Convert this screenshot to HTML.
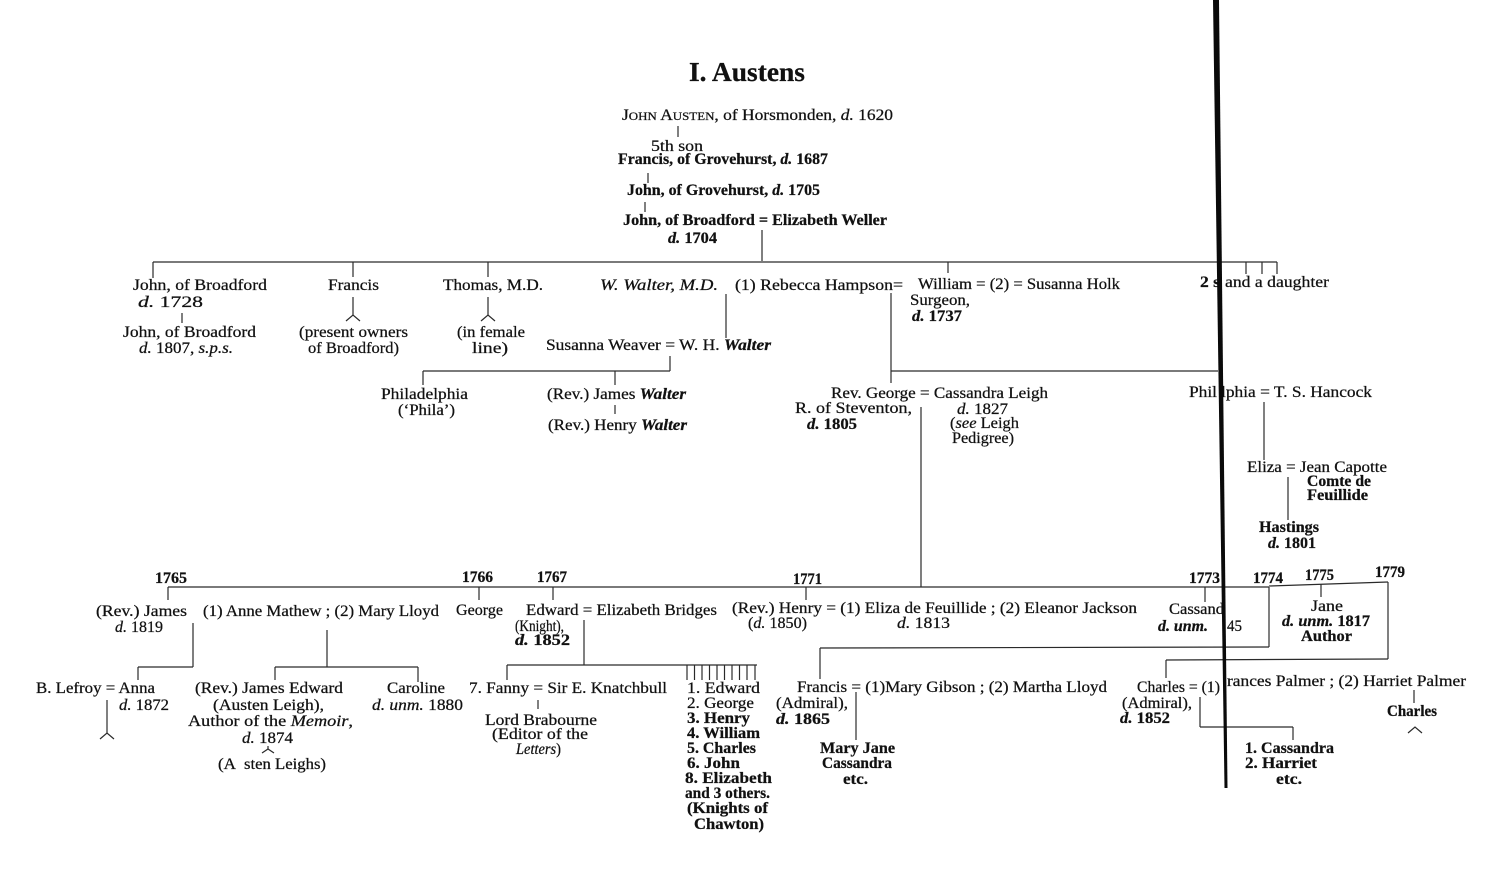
<!DOCTYPE html>
<html><head><meta charset="utf-8"><style>
html,body{margin:0;padding:0;background:#fff;}
svg{display:block;}
text{font-family:"Liberation Serif","DejaVu Serif",serif;font-size:15.5px;fill:#111;stroke:#111;stroke-width:0.25;}
.b{font-weight:bold;}
.i{font-style:italic;}
.t{font-size:27px;font-weight:bold;}
line,polyline{stroke:#2a2a2a;stroke-width:1.2;fill:none;}
</style></head><body>
<svg width="1500" height="896" viewBox="0 0 1500 896" xmlns="http://www.w3.org/2000/svg">
<rect width="1500" height="896" fill="#fff"/>
<g>
<text class="t" x="689" y="81" textLength="116" lengthAdjust="spacingAndGlyphs">I. Austens</text>

<text x="622" y="120" textLength="271" lengthAdjust="spacingAndGlyphs">J<tspan font-size="11.5">OHN</tspan> A<tspan font-size="11.5">USTEN</tspan>, of Horsmonden, <tspan class="i">d.</tspan> 1620</text>
<text x="651" y="151" textLength="52" lengthAdjust="spacingAndGlyphs">5th  son</text>
<text class="b" x="618" y="164" textLength="210" lengthAdjust="spacingAndGlyphs">Francis, of Grovehurst, <tspan class="i">d.</tspan> 1687</text>
<text class="b" x="627" y="195" textLength="193" lengthAdjust="spacingAndGlyphs">John, of Grovehurst, <tspan class="i">d.</tspan> 1705</text>
<text class="b" x="623" y="225" textLength="264" lengthAdjust="spacingAndGlyphs">John, of Broadford = Elizabeth  Weller</text>
<text class="b" x="668" y="243" textLength="49" lengthAdjust="spacingAndGlyphs"><tspan class="i">d.</tspan> 1704</text>

<text x="133" y="290" textLength="134" lengthAdjust="spacingAndGlyphs">John, of Broadford</text>
<text x="138" y="307" textLength="65" lengthAdjust="spacingAndGlyphs"><tspan class="i">d.</tspan> 1728</text>
<text x="123" y="337" textLength="133" lengthAdjust="spacingAndGlyphs">John, of Broadford</text>
<text x="139" y="353" textLength="94" lengthAdjust="spacingAndGlyphs"><tspan class="i">d.</tspan> 1807, <tspan class="i">s.p.s.</tspan></text>
<text x="328" y="290" textLength="51" lengthAdjust="spacingAndGlyphs">Francis</text>
<text x="299" y="337" textLength="109" lengthAdjust="spacingAndGlyphs">(present owners</text>
<text x="308" y="353" textLength="91" lengthAdjust="spacingAndGlyphs">of Broadford)</text>
<text x="443" y="290" textLength="100" lengthAdjust="spacingAndGlyphs">Thomas, M.D.</text>
<text x="457" y="337" textLength="68" lengthAdjust="spacingAndGlyphs">(in female</text>
<text x="472" y="353" textLength="36" lengthAdjust="spacingAndGlyphs">line)</text>
<text class="i" x="600" y="290" textLength="118" lengthAdjust="spacingAndGlyphs">W. Walter, M.D.</text>
<text x="735" y="290" textLength="168" lengthAdjust="spacingAndGlyphs">(1) Rebecca Hampson=</text>
<text x="918" y="289" textLength="202" lengthAdjust="spacingAndGlyphs">William = (2) = Susanna Holk</text>
<text x="910" y="305" textLength="60" lengthAdjust="spacingAndGlyphs">Surgeon,</text>
<text class="b" x="912" y="321" textLength="50" lengthAdjust="spacingAndGlyphs"><tspan class="i">d.</tspan> 1737</text>
<text x="546" y="350" textLength="225" lengthAdjust="spacingAndGlyphs">Susanna Weaver = W. H. <tspan class="i b">Walter</tspan></text>
<text x="381" y="399" textLength="87" lengthAdjust="spacingAndGlyphs">Philadelphia</text>
<text x="398" y="415" textLength="57" lengthAdjust="spacingAndGlyphs">(‘Phila’)</text>
<text x="547" y="399" textLength="139" lengthAdjust="spacingAndGlyphs">(Rev.) James <tspan class="i b">Walter</tspan></text>
<text x="548" y="430" textLength="139" lengthAdjust="spacingAndGlyphs">(Rev.) Henry <tspan class="i b">Walter</tspan></text>
<text x="831" y="398" textLength="217" lengthAdjust="spacingAndGlyphs">Rev. George = Cassandra  Leigh</text>
<text x="795" y="413" textLength="117" lengthAdjust="spacingAndGlyphs">R. of Steventon,</text>
<text class="b" x="807" y="429" textLength="50" lengthAdjust="spacingAndGlyphs"><tspan class="i">d.</tspan> 1805</text>
<text x="957" y="414" textLength="51" lengthAdjust="spacingAndGlyphs"><tspan class="i">d.</tspan> 1827</text>
<text x="950" y="428" textLength="69" lengthAdjust="spacingAndGlyphs">(<tspan class="i">see</tspan> Leigh</text>
<text x="952" y="443" textLength="62" lengthAdjust="spacingAndGlyphs">Pedigree)</text>
<text class="b" x="1200" y="287" textLength="20" lengthAdjust="spacingAndGlyphs">2 s</text>
<text x="1225" y="287" textLength="104" lengthAdjust="spacingAndGlyphs">and a daughter</text>
<text x="1189" y="397" textLength="28" lengthAdjust="spacingAndGlyphs">Phil</text>
<text x="1221" y="397" textLength="151" lengthAdjust="spacingAndGlyphs">lphia = T. S. Hancock</text>
<text x="1247" y="472" textLength="140" lengthAdjust="spacingAndGlyphs">Eliza = Jean Capotte</text>
<text class="b" x="1307" y="486" textLength="64" lengthAdjust="spacingAndGlyphs">Comte de</text>
<text class="b" x="1307" y="500" textLength="61" lengthAdjust="spacingAndGlyphs">Feuillide</text>
<text class="b" x="1259" y="532" textLength="60" lengthAdjust="spacingAndGlyphs">Hastings</text>
<text class="b" x="1268" y="548" textLength="48" lengthAdjust="spacingAndGlyphs"><tspan class="i">d.</tspan> 1801</text>

<text class="b" x="155" y="583" textLength="32" lengthAdjust="spacingAndGlyphs">1765</text>
<text class="b" x="462" y="582" textLength="31" lengthAdjust="spacingAndGlyphs">1766</text>
<text class="b" x="537" y="582" textLength="30" lengthAdjust="spacingAndGlyphs">1767</text>
<text class="b" x="793" y="584" textLength="29" lengthAdjust="spacingAndGlyphs">1771</text>
<text class="b" x="1189" y="583" textLength="31" lengthAdjust="spacingAndGlyphs">1773</text>
<text class="b" x="1253" y="583" textLength="30" lengthAdjust="spacingAndGlyphs">1774</text>
<text class="b" x="1305" y="580" textLength="29" lengthAdjust="spacingAndGlyphs">1775</text>
<text class="b" x="1375" y="577" textLength="30" lengthAdjust="spacingAndGlyphs">1779</text>

<text x="96" y="616" textLength="91" lengthAdjust="spacingAndGlyphs">(Rev.) James</text>
<text x="115" y="632" textLength="48" lengthAdjust="spacingAndGlyphs"><tspan class="i">d.</tspan> 1819</text>
<text x="203" y="616" textLength="236" lengthAdjust="spacingAndGlyphs">(1) Anne Mathew ;  (2) Mary Lloyd</text>
<text x="456" y="615" textLength="47" lengthAdjust="spacingAndGlyphs">George</text>
<text x="526" y="615" textLength="191" lengthAdjust="spacingAndGlyphs">Edward = Elizabeth Bridges</text>
<text x="515" y="631" textLength="49" lengthAdjust="spacingAndGlyphs">(Knight),</text>
<text class="b" x="515" y="645" textLength="55" lengthAdjust="spacingAndGlyphs"><tspan class="i">d.</tspan>  1852</text>
<text x="732" y="613" textLength="405" lengthAdjust="spacingAndGlyphs">(Rev.) Henry = (1) Eliza de Feuillide ;  (2) Eleanor Jackson</text>
<text x="748" y="628" textLength="59" lengthAdjust="spacingAndGlyphs">(<tspan class="i">d.</tspan> 1850)</text>
<text x="897" y="628" textLength="53" lengthAdjust="spacingAndGlyphs"><tspan class="i">d.</tspan>  1813</text>
<text x="1169" y="614" textLength="55" lengthAdjust="spacingAndGlyphs">Cassand</text>
<text class="b i" x="1158" y="631" textLength="50" lengthAdjust="spacingAndGlyphs">d. unm.</text>
<text x="1227" y="631" textLength="15" lengthAdjust="spacingAndGlyphs">45</text>
<text x="1311" y="611" textLength="32" lengthAdjust="spacingAndGlyphs">Jane</text>
<text class="b" x="1282" y="626" textLength="88" lengthAdjust="spacingAndGlyphs"><tspan class="i">d. unm.</tspan> 1817</text>
<text class="b" x="1301" y="641" textLength="51" lengthAdjust="spacingAndGlyphs">Author</text>

<text x="36" y="693" textLength="119" lengthAdjust="spacingAndGlyphs">B. Lefroy = Anna</text>
<text x="119" y="710" textLength="50" lengthAdjust="spacingAndGlyphs"><tspan class="i">d.</tspan> 1872</text>
<text x="195" y="693" textLength="148" lengthAdjust="spacingAndGlyphs">(Rev.) James Edward</text>
<text x="213" y="710" textLength="111" lengthAdjust="spacingAndGlyphs">(Austen Leigh),</text>
<text x="188" y="726" textLength="165" lengthAdjust="spacingAndGlyphs">Author of the <tspan class="i">Memoir</tspan>,</text>
<text x="242" y="743" textLength="51" lengthAdjust="spacingAndGlyphs"><tspan class="i">d.</tspan> 1874</text>
<text x="218" y="769" textLength="18" lengthAdjust="spacingAndGlyphs">(A</text>
<text x="244" y="769" textLength="82" lengthAdjust="spacingAndGlyphs">sten Leighs)</text>
<text x="387" y="693" textLength="58" lengthAdjust="spacingAndGlyphs">Caroline</text>
<text x="372" y="710" textLength="91" lengthAdjust="spacingAndGlyphs"><tspan class="i">d. unm.</tspan> 1880</text>
<text x="469" y="693" textLength="198" lengthAdjust="spacingAndGlyphs">7. Fanny = Sir E. Knatchbull</text>
<text x="485" y="725" textLength="112" lengthAdjust="spacingAndGlyphs">Lord  Brabourne</text>
<text x="492" y="739" textLength="96" lengthAdjust="spacingAndGlyphs">(Editor of the</text>
<text x="516" y="754" textLength="45" lengthAdjust="spacingAndGlyphs"><tspan class="i">Letters</tspan>)</text>

<text x="687" y="693" textLength="73" lengthAdjust="spacingAndGlyphs">1.  Edward</text>
<text x="687" y="708" textLength="67" lengthAdjust="spacingAndGlyphs">2.  George</text>
<text class="b" x="687" y="723" textLength="63" lengthAdjust="spacingAndGlyphs">3.  Henry</text>
<text class="b" x="687" y="738" textLength="73" lengthAdjust="spacingAndGlyphs">4.  William</text>
<text class="b" x="687" y="753" textLength="69" lengthAdjust="spacingAndGlyphs">5.  Charles</text>
<text class="b" x="687" y="768" textLength="53" lengthAdjust="spacingAndGlyphs">6.  John</text>
<text class="b" x="685" y="783" textLength="87" lengthAdjust="spacingAndGlyphs">8.  Elizabeth</text>
<text class="b" x="685" y="798" textLength="85" lengthAdjust="spacingAndGlyphs">and 3 others.</text>
<text class="b" x="687" y="813" textLength="81" lengthAdjust="spacingAndGlyphs">(Knights of</text>
<text class="b" x="694" y="829" textLength="70" lengthAdjust="spacingAndGlyphs">Chawton)</text>

<text x="797" y="692" textLength="310" lengthAdjust="spacingAndGlyphs">Francis = (1)Mary Gibson ;  (2) Martha Lloyd</text>
<text x="776" y="708" textLength="72" lengthAdjust="spacingAndGlyphs">(Admiral),</text>
<text class="b" x="776" y="724" textLength="54" lengthAdjust="spacingAndGlyphs"><tspan class="i">d.</tspan> 1865</text>
<text class="b" x="820" y="753" textLength="75" lengthAdjust="spacingAndGlyphs">Mary  Jane</text>
<text class="b" x="822" y="768" textLength="70" lengthAdjust="spacingAndGlyphs">Cassandra</text>
<text class="b" x="843" y="784" textLength="25" lengthAdjust="spacingAndGlyphs">etc.</text>

<text x="1137" y="692" textLength="83" lengthAdjust="spacingAndGlyphs">Charles = (1)</text>
<text x="1227" y="686" textLength="239" lengthAdjust="spacingAndGlyphs">rances Palmer ;  (2) Harriet Palmer</text>
<text x="1122" y="708" textLength="70" lengthAdjust="spacingAndGlyphs">(Admiral),</text>
<text class="b" x="1120" y="723" textLength="50" lengthAdjust="spacingAndGlyphs"><tspan class="i">d.</tspan> 1852</text>
<text class="b" x="1245" y="753" textLength="89" lengthAdjust="spacingAndGlyphs">1.  Cassandra</text>
<text class="b" x="1245" y="768" textLength="72" lengthAdjust="spacingAndGlyphs">2.  Harriet</text>
<text class="b" x="1276" y="784" textLength="26" lengthAdjust="spacingAndGlyphs">etc.</text>
<text class="b" x="1387" y="716" textLength="50" lengthAdjust="spacingAndGlyphs">Charles</text>
</g>

<g>
<line x1="678" y1="126" x2="678" y2="137"/>
<line x1="648" y1="173" x2="648" y2="183"/>
<line x1="645" y1="202" x2="645" y2="212"/>
<line x1="762" y1="230" x2="762" y2="261"/>
<line x1="153" y1="262" x2="1277" y2="262"/>
<line x1="153" y1="262" x2="153" y2="278"/>
<line x1="353" y1="262" x2="353" y2="277"/>
<line x1="488" y1="262" x2="488" y2="277"/>
<line x1="948" y1="262" x2="948" y2="273"/>
<line x1="1246" y1="262" x2="1246" y2="274"/>
<line x1="1262" y1="262" x2="1262" y2="274"/>
<line x1="1277" y1="262" x2="1277" y2="274"/>
<line x1="182" y1="313" x2="182" y2="323"/>
<line x1="353" y1="297" x2="353" y2="315"/>
<polyline points="346,321 353,315 360,321"/>
<line x1="488" y1="297" x2="488" y2="315"/>
<polyline points="481,321 488,315 495,321"/>
<line x1="726" y1="294" x2="726" y2="338"/>
<line x1="670" y1="356" x2="670" y2="371"/>
<line x1="423" y1="371" x2="670" y2="371"/>
<line x1="423" y1="371" x2="423" y2="385"/>
<line x1="615" y1="371" x2="615" y2="385"/>
<line x1="615" y1="405" x2="615" y2="414"/>
<line x1="891" y1="293" x2="891" y2="383"/>
<line x1="891" y1="371" x2="1218" y2="371"/>
<line x1="921" y1="407" x2="921" y2="587"/>
<line x1="1264" y1="402" x2="1264" y2="460"/>
<line x1="1288" y1="477" x2="1288" y2="520"/>

<line x1="168" y1="587" x2="1269" y2="587"/>
<line x1="1269" y1="586" x2="1388" y2="582"/>
<line x1="168" y1="587" x2="168" y2="600"/>
<line x1="479" y1="587" x2="479" y2="600"/>
<line x1="553" y1="587" x2="553" y2="600"/>
<line x1="806" y1="587" x2="806" y2="600"/>
<line x1="1205" y1="587" x2="1205" y2="602"/>
<line x1="1321" y1="584" x2="1321" y2="597"/>
<line x1="1269" y1="587" x2="1269" y2="647"/>
<line x1="820" y1="648" x2="1269" y2="647"/>
<line x1="820" y1="648" x2="820" y2="679"/>
<line x1="1388" y1="582" x2="1388" y2="659"/>
<line x1="1166" y1="660" x2="1388" y2="659"/>
<line x1="1166" y1="660" x2="1166" y2="678"/>

<line x1="193" y1="623" x2="193" y2="667"/>
<line x1="138" y1="667" x2="193" y2="667"/>
<line x1="138" y1="667" x2="138" y2="680"/>
<line x1="327" y1="630" x2="327" y2="667"/>
<line x1="275" y1="667" x2="418" y2="667"/>
<line x1="275" y1="667" x2="275" y2="680"/>
<line x1="418" y1="667" x2="418" y2="682"/>
<line x1="107" y1="700" x2="107" y2="733"/>
<polyline points="100,739 107,733 114,739"/>
<line x1="268" y1="746" x2="268" y2="749"/>
<polyline points="262,753 268,749 274,753"/>

<line x1="584" y1="620" x2="584" y2="665"/>
<line x1="507" y1="665" x2="757" y2="665"/>
<line x1="507" y1="665" x2="507" y2="680"/>
<line x1="538" y1="700" x2="538" y2="709"/>
<line x1="687" y1="665" x2="687" y2="680"/>
<line x1="694.5" y1="665" x2="694.5" y2="680"/>
<line x1="702" y1="665" x2="702" y2="680"/>
<line x1="709.5" y1="665" x2="709.5" y2="680"/>
<line x1="717" y1="665" x2="717" y2="680"/>
<line x1="724.5" y1="665" x2="724.5" y2="680"/>
<line x1="732" y1="665" x2="732" y2="680"/>
<line x1="739.5" y1="665" x2="739.5" y2="680"/>
<line x1="747" y1="665" x2="747" y2="680"/>
<line x1="755" y1="665" x2="755" y2="680"/>

<line x1="856" y1="692" x2="856" y2="740"/>
<line x1="1200" y1="697" x2="1200" y2="727"/>
<line x1="1200" y1="727" x2="1293" y2="727"/>
<line x1="1293" y1="727" x2="1293" y2="740"/>
<line x1="1414" y1="690" x2="1414" y2="703"/>
<polyline points="1408,733 1415,727 1422,733"/>
</g>

<polygon points="1213,0 1219,0 1227.5,788 1224.5,788" fill="#0a0a0a"/>
</svg>
</body></html>
